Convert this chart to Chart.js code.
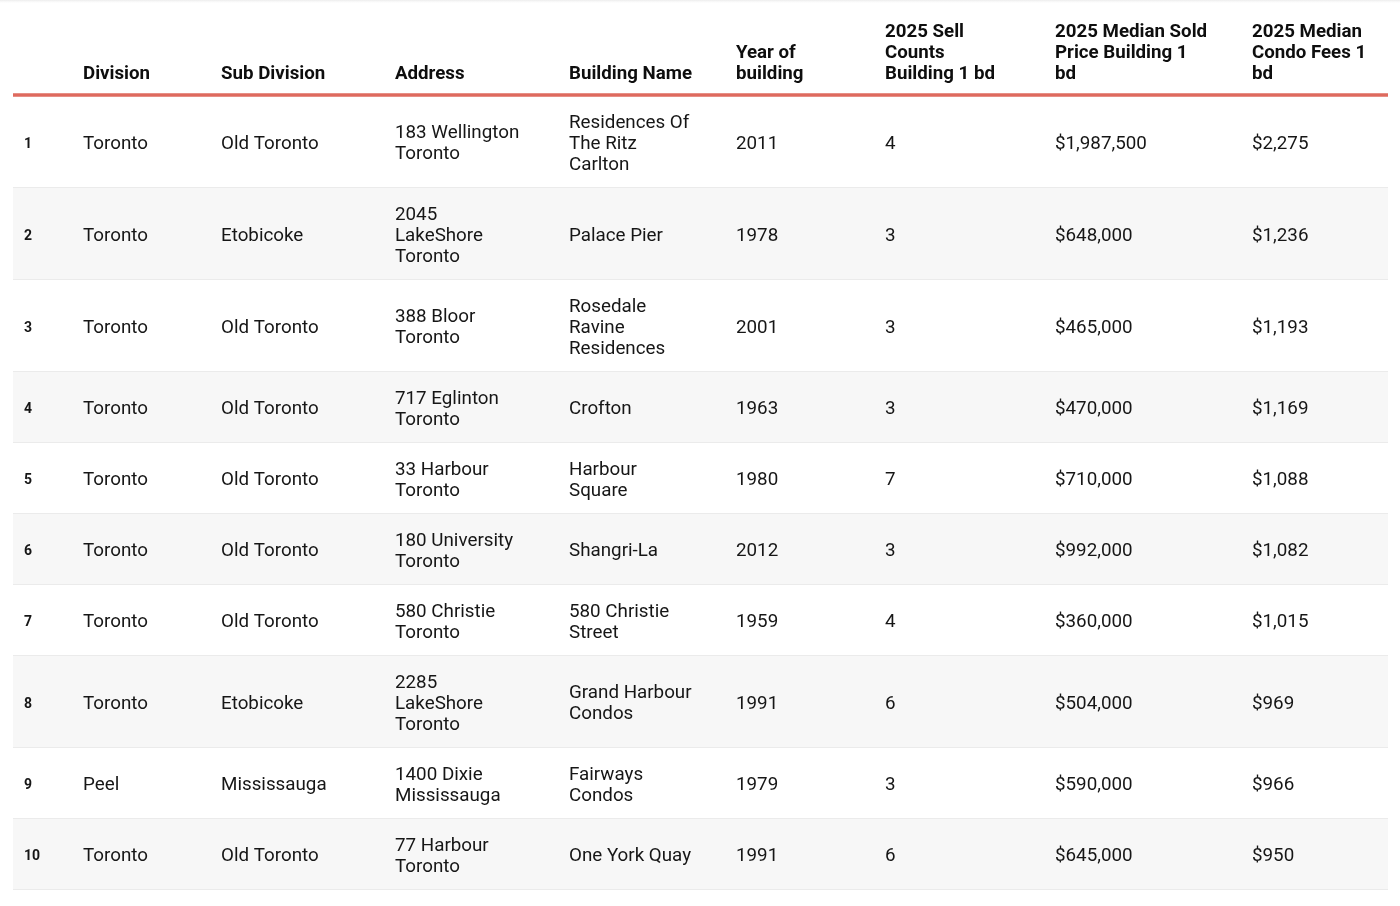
<!DOCTYPE html>
<html>
<head>
<meta charset="utf-8">
<script src="https://cdn.jsdelivr.net/npm/chart.js@4.4.1/dist/chart.umd.min.js"></script>
<style>
  html, body { margin: 0; padding: 0; background: #fff; }
  #wrap { width: 1400px; height: 906px; position: relative; }
</style>
</head>
<body>
<div id="wrap"><canvas id="condoTable" width="1400" height="906"></canvas></div>
<script>
// --- Table data ---
const headers = ['', 'Division', 'Sub Division', 'Address', 'Building Name', 'Year of\nbuilding',
    '2025 Sell\nCounts\nBuilding 1 bd', '2025 Median Sold\nPrice Building 1\nbd', '2025 Median\nCondo Fees 1\nbd'];

const ranks = [1, 2, 3, 4, 5, 6, 7, 8, 9, 10];
const divisions = ['Toronto', 'Toronto', 'Toronto', 'Toronto', 'Toronto', 'Toronto', 'Toronto', 'Toronto', 'Peel', 'Toronto'];
const subDivisions = ['Old Toronto', 'Etobicoke', 'Old Toronto', 'Old Toronto', 'Old Toronto', 'Old Toronto',
    'Old Toronto', 'Etobicoke', 'Mississauga', 'Old Toronto'];
const addresses = ['183 Wellington\nToronto', '2045\nLakeShore\nToronto', '388 Bloor\nToronto', '717 Eglinton\nToronto',
    '33 Harbour\nToronto', '180 University\nToronto', '580 Christie\nToronto', '2285\nLakeShore\nToronto',
    '1400 Dixie\nMississauga', '77 Harbour\nToronto'];
const buildingNames = ['Residences Of\nThe Ritz\nCarlton', 'Palace Pier', 'Rosedale\nRavine\nResidences', 'Crofton',
    'Harbour\nSquare', 'Shangri-La', '580 Christie\nStreet', 'Grand Harbour\nCondos', 'Fairways\nCondos', 'One York Quay'];
const years = [2011, 1978, 2001, 1963, 1980, 2012, 1959, 1991, 1979, 1991];
const sellCounts = [4, 3, 3, 3, 7, 3, 4, 6, 3, 6];
const medianPrices = [1987500, 648000, 465000, 470000, 710000, 992000, 360000, 504000, 590000, 645000];
const condoFees = [2275, 1236, 1193, 1169, 1088, 1082, 1015, 969, 966, 950];

// --- Layout & style ---
const colX = [24, 83, 221, 395, 569, 736, 885, 1055, 1252];
const tableLeft = 13, tableRight = 1388;
const headerBottom = 95;
const lineH = 21;
const rowPad = 29;
const theme = {
    text: '#161616',
    header: '#0e0e0e',
    accent: '#de6a5e',
    stripe: '#f7f7f7',
    border: '#ebebeb',
    font: 'Roboto'
};

const money = v => '$' + v.toLocaleString('en-US');

function cellsForRow(i) {
    return [String(ranks[i]), divisions[i], subDivisions[i], addresses[i], buildingNames[i],
        String(years[i]), String(sellCounts[i]), money(medianPrices[i]), money(condoFees[i])];
}

const tablePlugin = {
    id: 'tableCells',
    beforeDraw: (chart) => {
        const { ctx } = chart;
        const xs = chart.scales.x, ys = chart.scales.y;
        const px = v => xs.getPixelForValue(v);
        const py = v => ys.getPixelForValue(v);

        ctx.save();
        ctx.fillStyle = '#fff';
        ctx.fillRect(0, 0, chart.width, chart.height);

        // faint top edge
        const g = ctx.createLinearGradient(0, py(0), 0, py(4));
        g.addColorStop(0, '#ececec');
        g.addColorStop(1, 'rgba(255,255,255,0)');
        ctx.fillStyle = g;
        ctx.fillRect(0, py(0), chart.width, py(4) - py(0));

        // header
        ctx.fillStyle = theme.header;
        ctx.font = `bold 18.7px ${theme.font}`;
        ctx.textAlign = 'left';
        ctx.textBaseline = 'alphabetic';
        headers.forEach((h, c) => {
            const lines = h.split('\n');
            lines.forEach((ln, k) => {
                const base = 79 - (lines.length - 1 - k) * lineH;
                ctx.fillText(ln, px(colX[c]), py(base));
            });
        });

        // rows
        let top = headerBottom + 1;
        ranks.forEach((r, i) => {
            const cells = cellsForRow(i);
            const nLines = Math.max(...cells.map(s => s.split('\n').length));
            const h = nLines * lineH + rowPad;
            if (i % 2 === 1) {
                ctx.fillStyle = theme.stripe;
                ctx.fillRect(px(tableLeft), py(top), px(tableRight) - px(tableLeft), py(top + h) - py(top));
            }
            ctx.strokeStyle = theme.border;
            ctx.lineWidth = 1.2;
            ctx.beginPath();
            ctx.moveTo(px(tableLeft), py(top + h) - 0.5);
            ctx.lineTo(px(tableRight), py(top + h) - 0.5);
            ctx.stroke();

            const mid = top + h / 2;
            ctx.textBaseline = 'middle';
            cells.forEach((s, c) => {
                const lines = s.split('\n');
                ctx.fillStyle = theme.text;
                ctx.font = c === 0 ? `bold 14px ${theme.font}` : `18.8px ${theme.font}`;
                lines.forEach((ln, k) => {
                    const y = mid + (k - (lines.length - 1) / 2) * lineH + 2;
                    ctx.fillText(ln, px(colX[c]), py(y));
                });
            });
            top += h;
        });

        // header rule
        ctx.strokeStyle = theme.accent;
        ctx.lineWidth = 3.5;
        ctx.beginPath();
        ctx.moveTo(px(tableLeft), py(headerBottom));
        ctx.lineTo(px(tableRight), py(headerBottom));
        ctx.stroke();
        ctx.restore();
    }
};

function render() {
    new Chart(document.getElementById('condoTable'), {
        type: 'scatter',
        data: { datasets: [{ data: [] }] },
        options: {
            responsive: false,
            animation: false,
            layout: { padding: 0 },
            plugins: { legend: { display: false }, tooltip: { enabled: false } },
            scales: {
                x: { type: 'linear', min: 0, max: 1400, display: false },
                y: { type: 'linear', min: 0, max: 906, reverse: true, display: false }
            }
        },
        plugins: [tablePlugin]
    });
}

Promise.all([
    document.fonts.load(`18px ${theme.font}`),
    document.fonts.load(`bold 18px ${theme.font}`)
]).then(render, render);
</script>
</body>
</html>
